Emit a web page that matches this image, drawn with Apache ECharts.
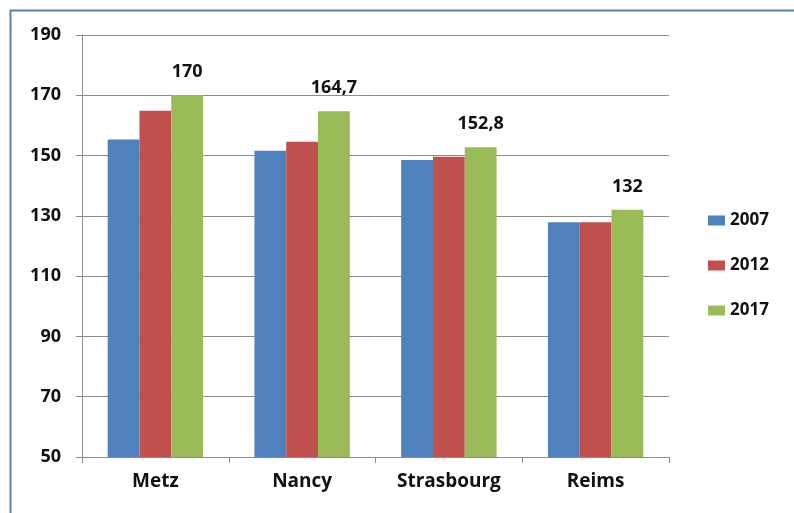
<!DOCTYPE html>
<html>
<head>
<meta charset="utf-8">
<script src="https://cdn.jsdelivr.net/npm/echarts@6/dist/echarts.min.js"></script>
<style>
  html, body { margin: 0; padding: 0; background: #fff; }
  #main { width: 794px; height: 513px; }
</style>
</head>
<body>
<div id="main"></div>
<script>
// villes
var villes = ["Metz", "Nancy", "Strasbourg", "Reims"];
// valeurs par année
var annees = ["2007", "2012", "2017"];
var v2007 = [155.3, 151.6, 148.5, 127.9];
var v2012 = [164.9, 154.6, 149.6, 127.9];
var v2017 = [170, 164.7, 152.8, 132];
var couleurs = ["#4f81bd", "#c0504d", "#9bbb59"];

var police = "'Open Sans', 'Noto Sans', sans-serif";

var myChart = echarts.init(document.getElementById("main"));

function serie(nom, data, couleur, etiquette) {
  return {
    name: nom,
    type: "bar",
    data: data,
    barGap: "0%",
    barCategoryGap: "35%",
    itemStyle: { color: couleur },
    label: {
      show: etiquette,
      position: "top",
      distance: 14,
      color: "#111",
      fontSize: 18,
      fontWeight: "bold",
      fontFamily: police,
      // virgule décimale
      formatter: function(p) {
        return String(p.value).replace(".", ",");
      }
    }
  };
}

var option = {
  animation: false,
  backgroundColor: "#fff",
  // cadre autour du graphique
  graphic: [
    {
      type: "rect",
      shape: { x: 10.5, y: 10.5, width: 820, height: 540 },
      style: { fill: "none", stroke: "#5b80b0", lineWidth: 2 }
    }
  ],
  grid: { left: 82, top: 35, right: 125, bottom: 56 },
  legend: {
    data: annees,
    orient: "vertical",
    left: 703,
    top: 207,
    itemWidth: 17,
    itemHeight: 10,
    itemGap: 28,
    icon: "rect",
    textStyle: {
      color: "#111",
      fontSize: 17,
      fontWeight: "bold",
      fontFamily: police
    }
  },
  xAxis: {
    type: "category",
    data: villes,
    axisLine: { lineStyle: { color: "#8c8c8c", width: 1 } },
    axisTick: { show: true, length: 6, lineStyle: { color: "#8c8c8c" } },
    axisLabel: {
      color: "#111",
      fontSize: 19,
      fontWeight: "bold",
      fontFamily: police,
      margin: 15
    }
  },
  yAxis: {
    type: "value",
    min: 50,
    max: 190,
    interval: 20,
    axisLine: { show: true, lineStyle: { color: "#8c8c8c" } },
    axisTick: { show: true, length: 6, lineStyle: { color: "#8c8c8c" } },
    splitLine: { lineStyle: { color: "#8c8c8c", width: 1 } },
    axisLabel: {
      color: "#111",
      fontSize: 18,
      fontWeight: "bold",
      fontFamily: police,
      margin: 21
    }
  },
  series: [
    serie(annees[0], v2007, couleurs[0], false),
    serie(annees[1], v2012, couleurs[1], false),
    serie(annees[2], v2017, couleurs[2], true)
  ]
};

myChart.setOption(option);
</script>
</body>
</html>
